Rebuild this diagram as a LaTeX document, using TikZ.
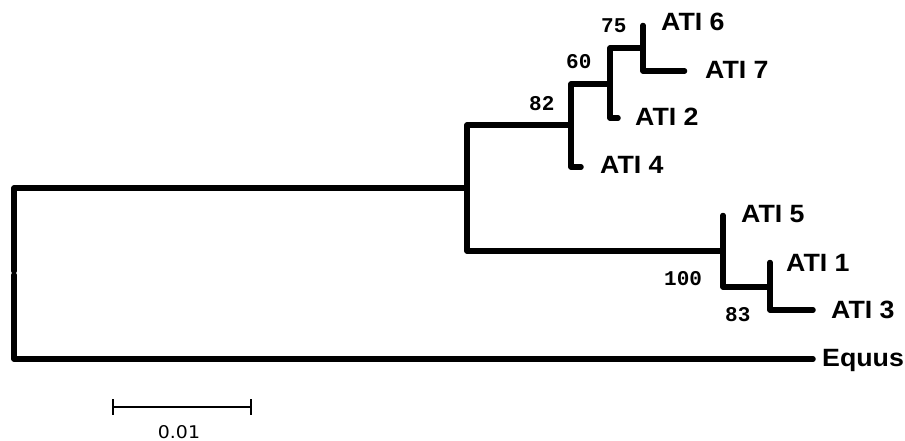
\documentclass[tikz,border=0pt]{standalone}
\usepackage{fontspec}
\newfontfamily\labfont[FakeStretch=1.07]{Liberation Sans}
\newfontfamily\bootfont{Liberation Mono}
\newfontfamily\sbfont[FakeStretch=1.08]{DejaVu Sans}
\begin{document}
\begin{tikzpicture}[x=1pt,y=-1pt,
  br/.style={line width=5.5pt,line cap=round,line join=round},
  lab/.style={anchor=base west,inner sep=0pt,font={\labfont\bfseries\fontsize{25}{28}\selectfont}},
  boot/.style={anchor=base west,inner sep=0pt,font={\bootfont\bfseries\fontsize{21}{24}\selectfont}},
  sbar/.style={line width=1.5pt},
  sblab/.style={anchor=base,inner sep=0pt,font={\sbfont\fontsize{17.5}{20}\selectfont}}]
\useasboundingbox (0,0) rectangle (905,441);
% coordinates
\coordinate (rgT) at (14,271);
\coordinate (rgB) at (14,275);
\coordinate (nA) at (467,188);
\coordinate (nB) at (571,125);
\coordinate (nC) at (610,84);
\coordinate (nD) at (643,48);
\coordinate (nE) at (723,251);
\coordinate (nF) at (770,287);
\coordinate (l4) at (581,167);
\coordinate (l2) at (618,118);
\coordinate (l6) at (643,25.5);
\coordinate (l7) at (684.5,71);
\coordinate (l5) at (723,215.5);
\coordinate (l1) at (770,262.5);
\coordinate (l3) at (813,310);
\coordinate (lEq) at (813,359);
% branches
\draw[br] (rgT) |- (nA);
\draw[br] (rgB) |- (lEq);
\draw[br] (nB) -| (nA) |- (nE);
\draw[br] (nC) -| (nB) |- (l4);
\draw[br] (nD) -| (nC) |- (l2);
\draw[br] (l6) -- (nD) |- (l7);
\draw[br] (l5) -- (nE) |- (nF);
\draw[br] (l1) -- (nF) |- (l3);
% leaf labels
\node[lab] (t6) at (661,31) {ATI 6};
\node[lab] (t7) at (705,79) {ATI 7};
\node[lab] (t2) at (635,126) {ATI 2};
\node[lab] (t4) at (600,174) {ATI 4};
\node[lab] (t5) at (741,222) {ATI 5};
\node[lab] (t1) at (786,271) {ATI 1};
\node[lab] (t3) at (831,318) {ATI 3};
\node[lab] (tEq) at (822,366) {Equus};
% bootstrap values
\node[boot] (b75) at (601,33) {75};
\node[boot] (b60) at (566,69) {60};
\node[boot] (b82) at (529,111) {82};
\node[boot] (b100) at (664,285.5) {100};
\node[boot] (b83) at (725,321) {83};
% scale bar
\coordinate (sbL) at (113,407);
\coordinate (sbR) at (251,407);
\draw[sbar] (sbL) -- (sbR);
\draw[line width=2pt] (sbL) ++(0,-8) -- ++(0,16);
\draw[line width=2pt] (sbR) ++(0,-8) -- ++(0,16);
\node[sblab] (sbt) at (179,438) {0.01};
\end{tikzpicture}
\end{document}
